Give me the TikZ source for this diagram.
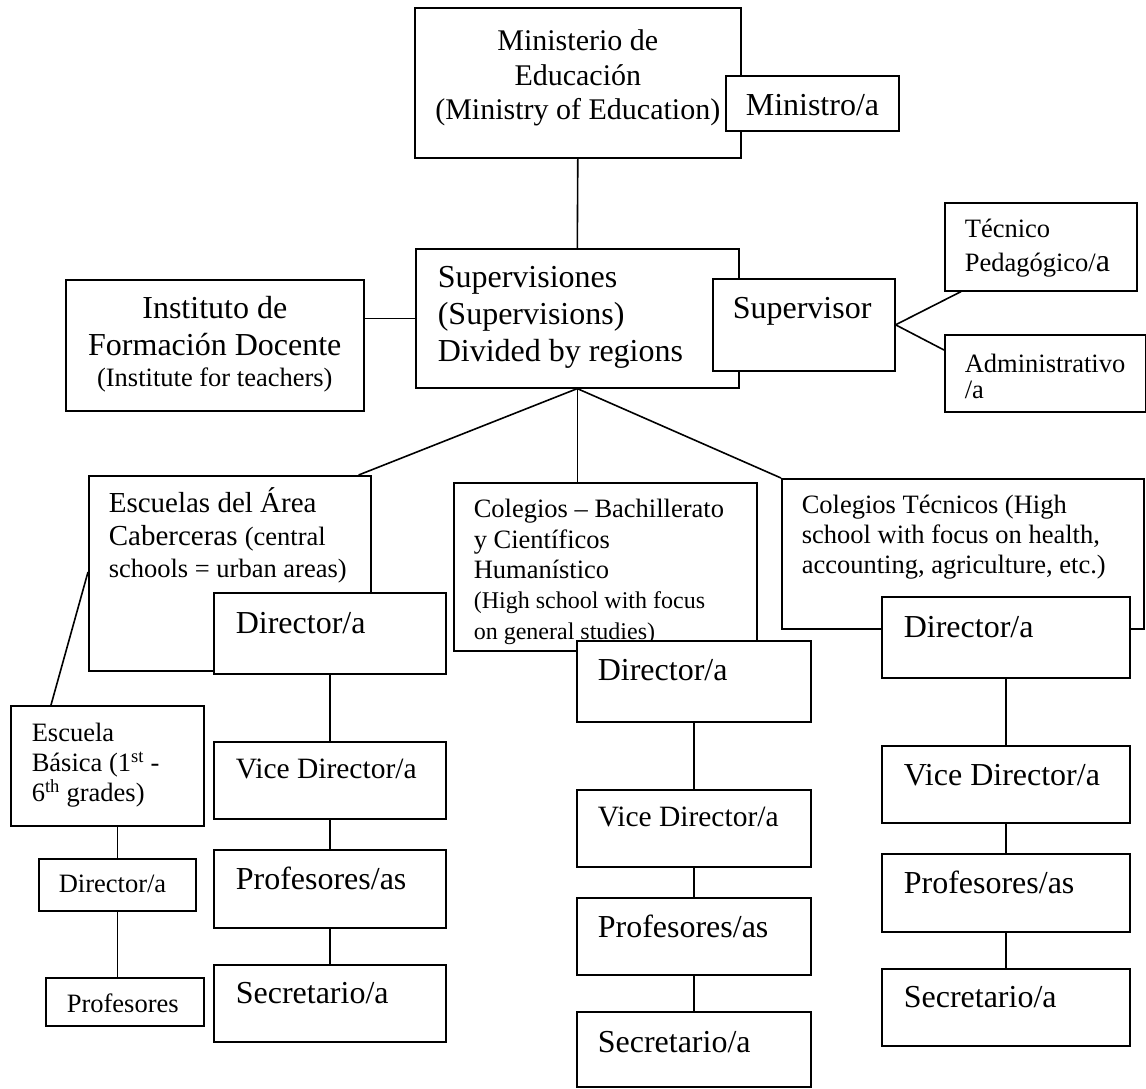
\documentclass[tikz,border=0pt]{standalone}
\usepackage{fontspec}
\setmainfont{Liberation Serif}
\usepackage{tikz}

% font sizes (1pt = 1px of the chart)
\newcommand{\fbig}{\fontsize{32}{37}\selectfont}
\newcommand{\fmin}{\fontsize{30}{34.5}\selectfont}
\newcommand{\fvic}{\fontsize{29.5}{34}\selectfont}
\newcommand{\fesc}{\fontsize{29}{32.5}\selectfont}
\newcommand{\fmed}{\fontsize{26.5}{30.3}\selectfont}
\newcommand{\fsml}{\fontsize{24}{29.5}\selectfont}
% box body: [left pad]{width}{height}{first baseline}{text}
\newcommand{\cell}[5][20pt]{\begin{minipage}[t][#3][t]{#2}%
  \vskip\dimexpr#4-\baselineskip\relax\hbox{}%
  \raggedright\leftskip=#1\relax #5\end{minipage}}

\begin{document}
\begin{tikzpicture}[x=1pt,y=-1pt,
  box/.style={draw,fill=white,line width=1.6pt,inner sep=0pt,anchor=north west},
  link/.style={line width=1.6pt},
  big/.style={font=\fbig}, med/.style={font=\fmed}]
\useasboundingbox (0,0) rectangle (1146,1088);
% ministry and supervision
\node[box,font=\fmin] (mined) at (414,7) {\cell[0pt]{326pt}{150pt}{43pt}{\centering Ministerio de\\ Educación\\ (Ministry of Education)}};
\node[box,big] (ministro) at (725,75) {\cell{173pt}{55pt}{40pt}{Ministro/a}};
\node[box,big] (superv) at (415,248) {\cell[22pt]{323pt}{139pt}{39pt}{Supervisiones\\ (Supervisions)\\ Divided by regions}};
\node[box,big] (supervisor) at (712,278) {\cell{182pt}{92pt}{40pt}{Supervisor}};
\node[box,font=\fontsize{26.5}{34}\selectfont] (tecped) at (944,202) {\cell{192pt}{88pt}{35pt}{Técnico\\ Pedagógico/{\fbig a}}};
\node[box,font=\fontsize{26.5}{26}\selectfont] (admin) at (944,334) {\cell{201pt}{77pt}{38pt}{Administrativo\\ /a}};
\node[box,big] (instituto) at (65,279) {\cell[0pt]{298pt}{131pt}{39pt}{\centering Instituto de\\ Formación Docente\par {\fmed (Institute for teachers)\par}}};
% schools
\node[box,font=\fesc] (escuelas) at (88,475) {\cell{282pt}{195pt}{37pt}{Escuelas del Área\\ Caberceras {\fmed (central}\\ {\fmed schools = urban areas)}}};
\node[box,med] (colegios) at (453,482) {\cell{303pt}{168pt}{35pt}{Colegios -- Bachillerato\\ y Científicos\\ Humanístico\\ {\fsml (High school with focus}\\ {\fsml on general studies)}}};
\node[box,font=\fontsize{26.5}{30}\selectfont] (tecnicos) at (781,478) {\cell{362pt}{150pt}{35pt}{Colegios Técnicos (High\\ school with focus on health,\\ accounting, agriculture, etc.)}};
\node[box,font=\fontsize{26.5}{30}\selectfont] (basica) at (10,705) {\cell[21pt]{193pt}{120pt}{36pt}{Escuela\\ Básica (1\textsuperscript{st} -\\ 6\textsuperscript{th} grades)}};
% staff of the schools
\node[box,big] (cabDir) at (213,592) {\cell[22pt]{232pt}{81pt}{41pt}{Director/a}};
\node[box,font=\fvic] (cabVice) at (213,741) {\cell[22pt]{232pt}{77pt}{37pt}{Vice Director/a}};
\node[box,big] (cabProf) at (213,849) {\cell[22pt]{232pt}{78pt}{40pt}{Profesores/as}};
\node[box,big] (cabSec) at (213,964) {\cell[22pt]{232pt}{77pt}{39pt}{Secretario/a}};
\node[box,med] (basDir) at (38,858) {\cell{157pt}{52pt}{34pt}{Director/a}};
\node[box,med] (basProf) at (45,977) {\cell[21pt]{158pt}{48pt}{35pt}{Profesores}};
\node[box,big] (colDir) at (576,640) {\cell[21pt]{234pt}{81pt}{40pt}{Director/a}};
\node[box,font=\fvic] (colVice) at (576,789) {\cell[21pt]{234pt}{77pt}{37pt}{Vice Director/a}};
\node[box,big] (colProf) at (576,897) {\cell[21pt]{234pt}{77pt}{40pt}{Profesores/as}};
\node[box,big] (colSec) at (576,1011) {\cell[21pt]{234pt}{75pt}{41pt}{Secretario/a}};
\node[box,big] (tecDir) at (881,596) {\cell[22pt]{248pt}{81pt}{41pt}{Director/a}};
\node[box,big] (tecVice) at (881,745) {\cell[22pt]{248pt}{77pt}{40pt}{Vice Director/a}};
\node[box,big] (tecProf) at (881,853) {\cell[22pt]{248pt}{78pt}{40pt}{Profesores/as}};
\node[box,big] (tecSec) at (881,968) {\cell[22pt]{248pt}{77pt}{39pt}{Secretario/a}};
% connectors
\draw[link] (mined.south) -- (superv.north);
\draw[link] (superv.west) -- (superv.west -| instituto.east);
\draw[link] (supervisor.east) -- ([xshift=17pt]tecped.south west);
\draw[link] (supervisor.east) -- ([yshift=-16pt]admin.north west);
\draw[link] (superv.south) -- ([xshift=-13pt]escuelas.north east);
\draw[link] (superv.south) -- (superv.south |- colegios.north);
\draw[link] (superv.south) -- (tecnicos.north west);
\draw[link] ([yshift=-97pt]escuelas.north west) -- ([xshift=41pt]basica.north west);
\draw[link] (basDir.north |- basica.south) -- (basDir.north);
\draw[link] (basDir.south) -- (basDir.south |- basProf.north);
\draw[link] (cabDir) -- (cabVice);
\draw[link] (cabVice) -- (cabProf);
\draw[link] (cabProf) -- (cabSec);
\draw[link] (colDir) -- (colVice);
\draw[link] (colVice) -- (colProf);
\draw[link] (colProf) -- (colSec);
\draw[link] (tecDir) -- (tecVice);
\draw[link] (tecVice) -- (tecProf);
\draw[link] (tecProf) -- (tecSec);
\end{tikzpicture}
\end{document}
